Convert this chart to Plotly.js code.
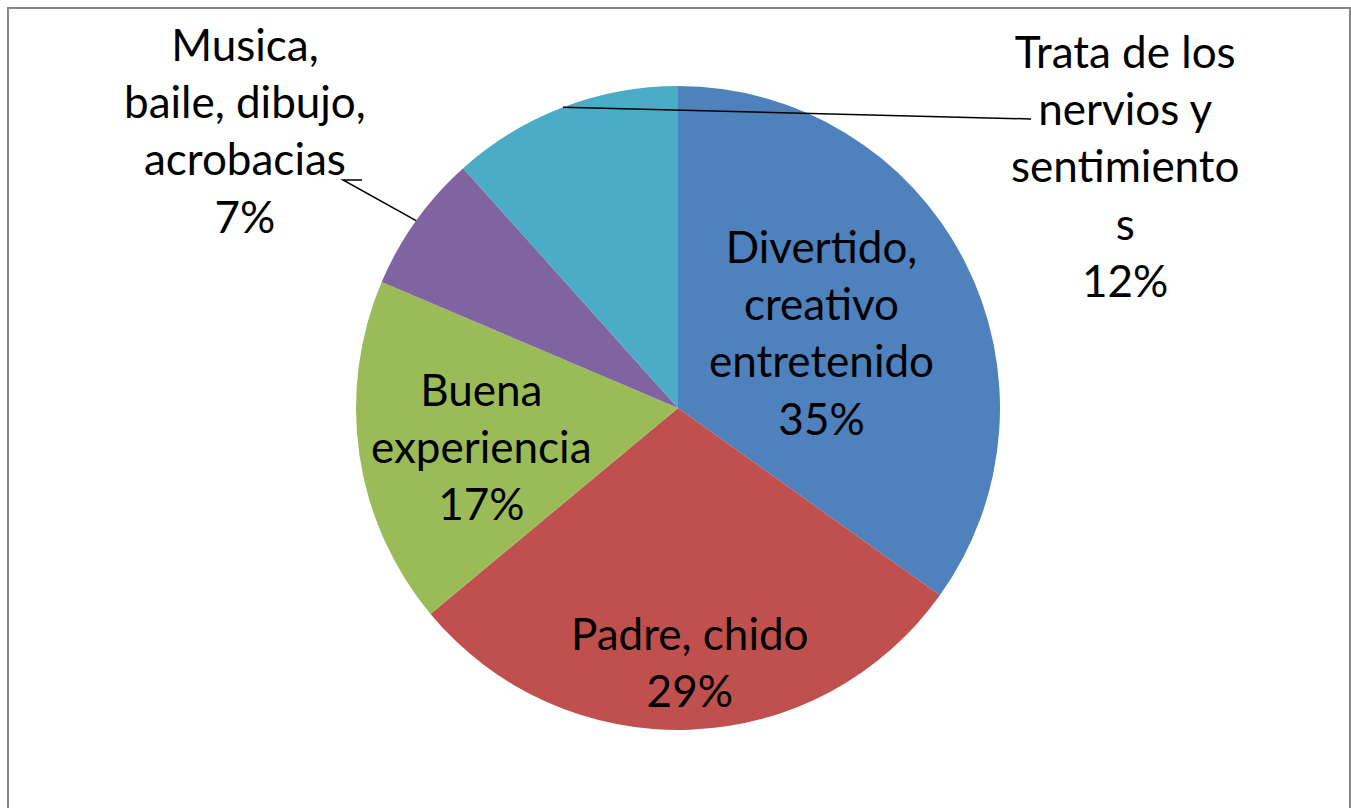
<!DOCTYPE html>
<html>
<head>
<meta charset="utf-8">
<script src="https://cdn.plot.ly/plotly-3.0.1.min.js"></script>
<style>
  body { margin: 0; background: #fff; }
  #chart { position: absolute; left: 0; top: 0; width: 1351px; height: 808px; }
  #frame { position: absolute; left: 7px; top: 7px; width: 1340px; height: 840px;
           border: 2px solid #888; pointer-events: none; }
</style>
</head>
<body>
<div id="chart"></div>
<div id="frame"></div>
<script>
// pie chart data
var labels = ['Divertido, creativo entretenido', 'Padre, chido', 'Buena experiencia',
              'Musica, baile, dibujo, acrobacias', 'Trata de los nervios y sentimientos'];
var values = [30, 25, 15, 6, 10];
var colors = ['#4F81BD', '#C0504D', '#9BBB59', '#8064A2', '#4BACC6'];
// label text as wrapped in the original
var labelLines = [
    ['Divertido,', 'creativo', 'entretenido'],
    ['Padre, chido'],
    ['Buena', 'experiencia'],
    ['Musica,', 'baile, dibujo,', 'acrobacias'],
    ['Trata de los', 'nervios y', 'sentimiento', 's']
];

var W = 1351, H = 808;
var margin = {l: 5, r: 0, t: 86, b: 78};
var cx = margin.l + (W - margin.l - margin.r) / 2;
var cy = margin.t + (H - margin.t - margin.b) / 2;
var R = Math.min(W - margin.l - margin.r, H - margin.t - margin.b) / 2;

// where each label block sits (pixels), and leader line elbows for outside labels
var labelPos = [[822, 332], [690, 661], [481, 446], [245, 130], [1125, 165]];
var leaderEnd = [null, null, null, [[343, 180], [362, 180]], [[1031, 119]]];

function px(x) { return (x - margin.l) / (W - margin.l - margin.r); }
function py(y) { return 1 - (y - margin.t) / (H - margin.t - margin.b); }

var total = values.reduce(function (a, b) { return a + b; }, 0);
var annotations = [];
var shapes = [];
var cum = 0;
values.forEach(function (v, i) {
    var pct = Math.round(v / total * 100) + '%';
    annotations.push({
        xref: 'paper', yref: 'paper',
        x: px(labelPos[i][0]), y: py(labelPos[i][1]),
        xanchor: 'center', yanchor: 'middle',
        text: labelLines[i].concat([pct]).join('<br>'),
        showarrow: false,
        font: {family: 'Lato, sans-serif', size: 44, color: '#000'}
    });
    var mid = (cum + v / 2) / total * 2 * Math.PI;
    cum += v;
    if (leaderEnd[i]) {
        var ax = cx + R * Math.sin(mid), ay = cy - R * Math.cos(mid);
        var pts = leaderEnd[i].slice().reverse().concat([[ax, ay]]);
        var d = pts.map(function (p, k) {
            return (k ? 'L' : 'M') + px(p[0]) + ',' + py(p[1]);
        }).join(' ');
        shapes.push({type: 'path', xref: 'paper', yref: 'paper', path: d,
                     line: {color: '#000', width: 1.5}});
    }
});

var data = [{
    type: 'pie',
    labels: labels,
    values: values,
    sort: false,
    direction: 'clockwise',
    rotation: 0,
    marker: {colors: colors, line: {width: 0}},
    textinfo: 'none',
    hoverinfo: 'none'
}];

var layout = {
    width: W, height: H,
    margin: margin,
    showlegend: false,
    paper_bgcolor: '#fff',
    annotations: annotations,
    shapes: shapes
};

Plotly.newPlot('chart', data, layout, {staticPlot: true});
</script>
</body>
</html>
